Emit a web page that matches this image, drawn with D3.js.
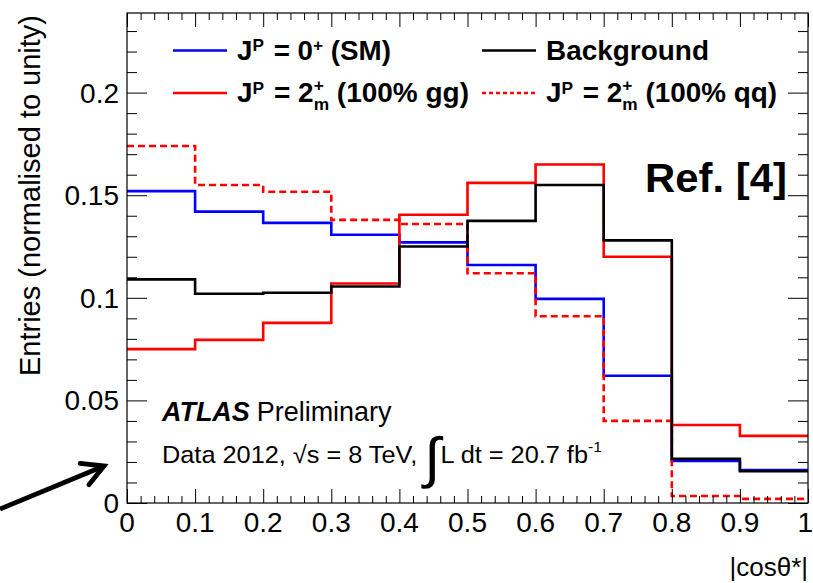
<!DOCTYPE html>
<html>
<head>
<meta charset="utf-8">
<script src="https://cdn.jsdelivr.net/npm/d3@7"></script>
<style>
  html, body { margin: 0; padding: 0; background: #fff; }
  svg { display: block; }
  text { font-family: "Liberation Sans", Arial, Helvetica, sans-serif; fill: #000; white-space: pre; }
</style>
</head>
<body>
<svg id="chart" width="813" height="583"></svg>
<script>
// ---------------- data ----------------
const binLow = [0.0, 0.1, 0.2, 0.3, 0.4, 0.5, 0.6, 0.7, 0.8, 0.9];
const binWidth = 0.1;
const smValues  = [0.152, 0.142, 0.1365, 0.1307, 0.127, 0.116, 0.0995, 0.062, 0.0205, 0.016];
const ggValues  = [0.075, 0.0795, 0.0878, 0.107, 0.1405, 0.156, 0.165, 0.120, 0.038, 0.0327];
const qqValues  = [0.174, 0.155, 0.1517, 0.138, 0.136, 0.112, 0.091, 0.040, 0.0034, 0.002];
const bkgValues = [0.109, 0.102, 0.1025, 0.1055, 0.125, 0.1375, 0.155, 0.128, 0.0215, 0.0155];
const xTickLabels = ["0", "0.1", "0.2", "0.3", "0.4", "0.5", "0.6", "0.7", "0.8", "0.9", "1"];
const yTickLabels = ["0", "0.05", "0.1", "0.15", "0.2"];
const xDomain = [0, 1];
const yDomain = [0, 0.2388];

// ---------------- layout ----------------
const svg = d3.select("#chart");
const L = 127, R = 808, T = 13, B = 503;
const x = d3.scaleLinear().domain(xDomain).range([L, R]);
const y = d3.scaleLinear().domain(yDomain).range([B, T]);

// ---------------- histograms ----------------
function stepPath(vals) {
  let p = "";
  vals.forEach((v, i) => {
    const x0 = x(binLow[i]), x1 = x(binLow[i] + binWidth), yy = y(v);
    p += (i === 0 ? "M" : "L") + x0 + "," + yy + "L" + x1 + "," + yy;
  });
  return p;
}
const series = [
  { vals: smValues,  color: "#0000ff", dash: null },
  { vals: ggValues,  color: "#ff0000", dash: null },
  { vals: qqValues,  color: "#ff0000", dash: "7,4" },
  { vals: bkgValues, color: "#000000", dash: null }
];
const gh = svg.append("g");
series.forEach(s => {
  gh.append("path")
    .attr("d", stepPath(s.vals))
    .attr("fill", "none")
    .attr("stroke", s.color)
    .attr("stroke-width", 2.6)
    .attr("stroke-dasharray", s.dash)
    .attr("stroke-linejoin", "miter");
});

// ---------------- axes (ROOT style, ticks inside) ----------------
const xMajor = d3.range(0, 11).map(i => i / 10);
const xMinor = d3.range(0, 51).map(i => i / 50).filter(v => Math.round(v * 50) % 5 !== 0);
const yMajor = d3.range(0, 5).map(i => i * 0.05);
const yMinor = d3.range(0, 24).map(i => i * 0.01).filter(v => Math.round(v * 100) % 5 !== 0);

function axisG(axisFn, scale, ticks, size, tr) {
  const g = svg.append("g").attr("transform", tr)
    .call(axisFn(scale).tickValues(ticks).tickSize(size).tickFormat(""));
  g.select(".domain").remove();
  g.selectAll(".tick line").attr("stroke", "#000").attr("stroke-width", 1);
  return g;
}
axisG(d3.axisTop, x, xMajor, 14, `translate(0,${B})`);
axisG(d3.axisTop, x, xMinor, 7, `translate(0,${B})`);
axisG(d3.axisBottom, x, xMajor, 14, `translate(0,${T})`);
axisG(d3.axisBottom, x, xMinor, 7, `translate(0,${T})`);
axisG(d3.axisRight, y, yMajor, 20, `translate(${L},0)`);
axisG(d3.axisRight, y, yMinor, 10, `translate(${L},0)`);
axisG(d3.axisLeft, y, yMajor, 20, `translate(${R},0)`);
axisG(d3.axisLeft, y, yMinor, 10, `translate(${R},0)`);

svg.append("rect").attr("x", L).attr("y", T).attr("width", R - L).attr("height", B - T)
  .attr("fill", "none").attr("stroke", "#000").attr("stroke-width", 1.2);

// tick labels
svg.append("g").selectAll("text").data(xMajor).join("text")
  .attr("x", (d, i) => i === xMajor.length - 1 ? 813 : x(d)).attr("y", B + 29)
  .attr("text-anchor", (d, i) => i === xMajor.length - 1 ? "end" : "middle")
  .attr("font-size", 28)
  .text((d, i) => xTickLabels[i]);
svg.append("g").selectAll("text").data(yMajor).join("text")
  .attr("x", L - 8).attr("y", d => y(d) + 10)
  .attr("text-anchor", "end").attr("font-size", 28)
  .text((d, i) => yTickLabels[i]);

// axis titles
svg.append("text").attr("x", R).attr("y", 576).attr("text-anchor", "end")
  .attr("font-size", 26).text("|cos\u03B8*|");
svg.append("text").attr("transform", `translate(40,${T + 2}) rotate(-90)`)
  .attr("text-anchor", "end").attr("font-size", 29)
  .text("Entries (normalised to unity)");

// ---------------- rich text helper (fits to target width) ----------------
function rich(x0, y0, parts, size, weight, targetW, opts) {
  opts = opts || {};
  const outer = svg.append("g").attr("transform", `translate(${x0},${y0})`);
  const g = outer.append("g");
  let cx = 0;
  const supOff = opts.supOff || 0.3, subOff = opts.subOff || 0.28;
  parts.forEach(p => {
    if (p.sup !== undefined || p.sub !== undefined) {
      let w = 0;
      const so = (p.sub !== undefined) ? 0.4 : supOff;
      if (p.sup !== undefined) {
        const t = g.append("text").attr("x", cx).attr("y", -size * so)
          .attr("font-size", size * 0.62).attr("font-weight", weight).text(p.sup);
        w = Math.max(w, t.node().getComputedTextLength());
      }
      if (p.sub !== undefined) {
        const t = g.append("text").attr("x", cx).attr("y", size * subOff)
          .attr("font-size", size * 0.62).attr("font-weight", weight).text(p.sub);
        w = Math.max(w, t.node().getComputedTextLength());
      }
      cx += w + (p.after || 0);
    } else {
      const t = g.append("text").attr("x", cx).attr("y", p.dy || 0)
        .attr("font-size", p.size || size).attr("font-weight", p.weight || weight)
        .attr("font-style", p.style || "normal").text(p.t);
      cx += t.node().getComputedTextLength() + (p.after || 0);
    }
  });
  if (targetW) {
    const bb = g.node().getBBox();
    g.attr("transform", `scale(${targetW / bb.width},1)`);
  }
  return outer;
}

// ---------------- legend ----------------
const legend = [
  { col: 0, row: 0, color: "#0000ff", dash: null, w: 154,
    parts: [{ t: "J" }, { sup: "P", after: 2 }, { t: " = 0" }, { sup: "+" }, { t: " (SM)" }] },
  { col: 1, row: 0, color: "#000000", dash: null, w: 163,
    parts: [{ t: "Background" }] },
  { col: 0, row: 1, color: "#ff0000", dash: null, w: 232,
    parts: [{ t: "J" }, { sup: "P", after: 2 }, { t: " = 2" }, { sup: "+", sub: "m" }, { t: " (100% gg)" }] },
  { col: 1, row: 1, color: "#ff0000", dash: "4,3", w: 231,
    parts: [{ t: "J" }, { sup: "P", after: 2 }, { t: " = 2" }, { sup: "+", sub: "m" }, { t: " (100% qq)" }] }
];
const colX = [173, 482], rowY = [50.5, 93];
legend.forEach(e => {
  const lx = colX[e.col], ly = rowY[e.row];
  svg.append("line").attr("x1", lx).attr("x2", lx + 54).attr("y1", ly).attr("y2", ly)
    .attr("stroke", e.color).attr("stroke-width", 2.6).attr("stroke-dasharray", e.dash);
  rich(lx + 64, ly + 9, e.parts, 27, "bold", e.w);
});

// ---------------- annotations ----------------
rich(645, 192, [{ t: "Ref. [4]" }], 41, "bold", 142);

rich(162, 421, [
  { t: "ATLAS", weight: "bold", style: "italic", after: 7 },
  { t: "Preliminary" }
], 27, "normal", 231);

rich(162, 463, [
  { t: "Data 2012, \u221As = 8 TeV, " },
  { t: "\u222B", size: 56, dy: 14, after: 0 },
  { t: "L dt = 20.7 fb" },
  { sup: "-1" }
], 24, "normal", 440, { supOff: 0.45 });

// arrow
const a0 = [0, 509], a1 = [104, 466];
svg.append("line").attr("x1", a0[0]).attr("y1", a0[1]).attr("x2", a1[0] - 3).attr("y2", a1[1] + 1.2)
  .attr("stroke", "#000").attr("stroke-width", 4.8);
(function () {
  const ang = Math.atan2(a1[1] - a0[1], a1[0] - a0[0]);
  const len = 24, spread = 0.5;
  const p1 = [a1[0] - len * Math.cos(ang - spread), a1[1] - len * Math.sin(ang - spread)];
  const p2 = [a1[0] - len * Math.cos(ang + spread), a1[1] - len * Math.sin(ang + spread)];
  svg.append("path").attr("d", `M${p1}L${a1}L${p2}`).attr("fill", "none")
    .attr("stroke", "#000").attr("stroke-width", 4.8).attr("stroke-linejoin", "miter")
    .attr("stroke-linecap", "round");
})();
</script>
</body>
</html>
